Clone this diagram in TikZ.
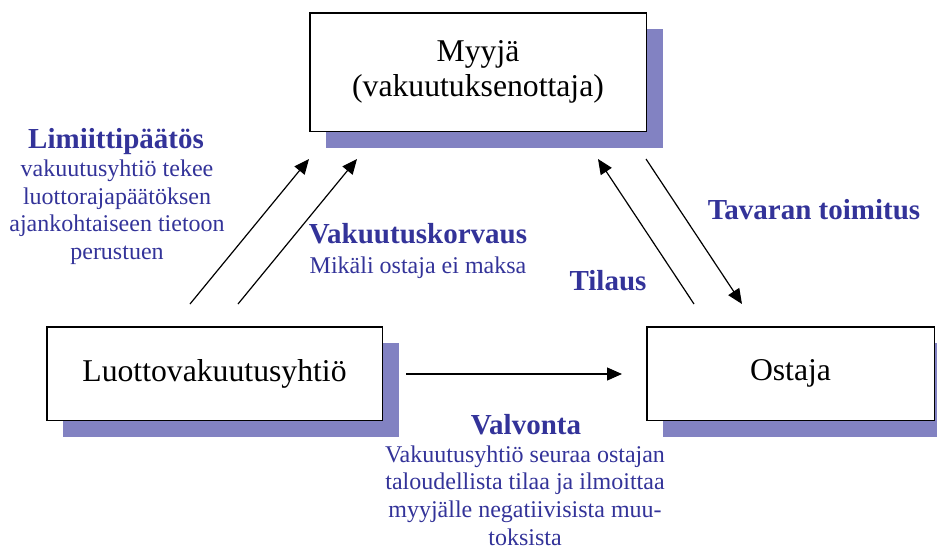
\documentclass[tikz,border=0pt]{standalone}
\usepackage{fontspec}
\setmainfont{Liberation Serif}
\usetikzlibrary{arrows.meta,shadows}
\definecolor{hblue}{RGB}{51,51,153}
\definecolor{shadowc}{RGB}{130,130,194}
\tikzset{
  boxnode/.style={draw=black, line width=1.5pt, fill=white, inner sep=0pt,
    align=center, font=\fontsize{31.7}{35}\selectfont,
    drop shadow={shadow xshift=16.5pt, shadow yshift=-16.5pt, fill=shadowc, draw=none, opacity=1}},
  headlbl/.style={anchor=base, inner sep=0pt, text=hblue, font=\bfseries\fontsize{29}{33}\selectfont},
  bodylbl/.style={anchor=base, inner sep=0pt, text=hblue, align=center, font=\fontsize{24}{27.6}\selectfont},
  arr/.style={draw=black, line width=1.2pt, -{Triangle[length=15pt,width=13pt]}}
}
\begin{document}
\begin{tikzpicture}[x=1pt,y=-1pt]
\useasboundingbox (0,0) rectangle (937,549);
% boxes
\node[boxnode, minimum width=336.5pt, minimum height=118.5pt] (myyja) at (478,72) {Myyjä\\(vakuutuksenottaja)};
\node[boxnode, minimum width=335.5pt, minimum height=93.5pt] (luotto) at (214.5,373.5) {Luottovakuutusyhtiö};
\node[boxnode, minimum width=287.5pt, minimum height=93.5pt] (ostaja) at (790.5,373.5) {Ostaja};
% arrow end points
\coordinate (l1s) at (190,304);
\coordinate (l1e) at (309,159);
\coordinate (l2s) at (238,304);
\coordinate (l2e) at (357,159);
\coordinate (r1s) at (694,304);
\coordinate (r1e) at (598,159);
\coordinate (r2s) at (646,159);
\coordinate (r2e) at (742,304);
\coordinate (hs) at (406,374);
\coordinate (he) at (622,374);
\draw[arr] (l1s) -- (l1e);
\draw[arr] (l2s) -- (l2e);
\draw[arr] (r1s) -- (r1e);
\draw[arr] (r2s) -- (r2e);
\draw[arr] (hs) -- (he);
% labels (multi-line body nodes: base = baseline of last line)
\node[headlbl] (limh) at (116,148) {Limiittipäätös};
\node[bodylbl] (limb) at (117,259.5) {vakuutusyhtiö tekee\\luottorajapäätöksen\\ajankohtaiseen tietoon\\perustuen};
\node[headlbl] (vkh) at (418,243) {Vakuutuskorvaus};
\node[bodylbl] (vkb) at (418,273) {Mikäli ostaja ei maksa};
\node[headlbl] (til) at (608,290) {Tilaus};
\node[headlbl] (tav) at (814,219) {Tavaran toimitus};
\node[headlbl] (valh) at (526,434.5) {Valvonta};
\node[bodylbl] (valb) at (525,545) {Vakuutusyhtiö seuraa ostajan\\taloudellista tilaa ja ilmoittaa\\myyjälle negatiivisista muu-\\toksista};
\end{tikzpicture}
\end{document}
